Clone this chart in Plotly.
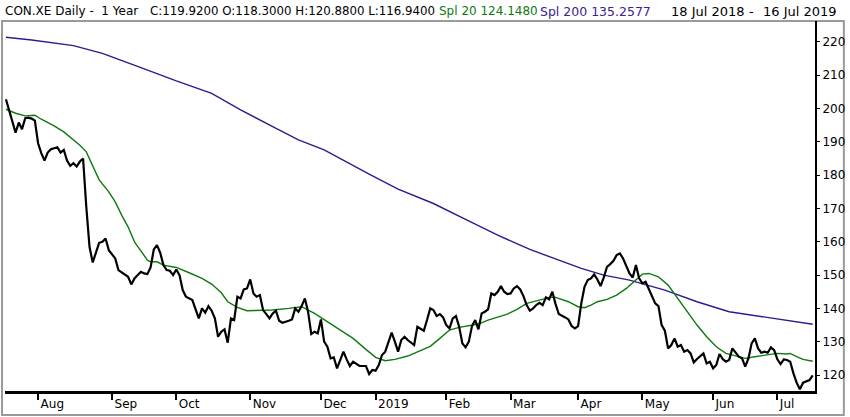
import plotly.graph_objects as go

# ---------------- data ----------------
close_dates = [
    "2018-07-18", "2018-07-23", "2018-07-24", "2018-07-25", "2018-07-26", "2018-07-27", "2018-07-30", "2018-07-31",
    "2018-08-01", "2018-08-02", "2018-08-03", "2018-08-06", "2018-08-07", "2018-08-09", "2018-08-10", "2018-08-13",
    "2018-08-14", "2018-08-15", "2018-08-16", "2018-08-17", "2018-08-20", "2018-08-21", "2018-08-22", "2018-08-23",
    "2018-08-24", "2018-08-27", "2018-08-28", "2018-08-29", "2018-08-30", "2018-08-31",
    "2018-09-04", "2018-09-05", "2018-09-07", "2018-09-10", "2018-09-11", "2018-09-12", "2018-09-13", "2018-09-14",
    "2018-09-17", "2018-09-18", "2018-09-19", "2018-09-20", "2018-09-21", "2018-09-24", "2018-09-25", "2018-09-26",
    "2018-09-27", "2018-09-28",
    "2018-10-01", "2018-10-02", "2018-10-03", "2018-10-04", "2018-10-08", "2018-10-09", "2018-10-10", "2018-10-11",
    "2018-10-12", "2018-10-15", "2018-10-16", "2018-10-17", "2018-10-18", "2018-10-19", "2018-10-22", "2018-10-23",
    "2018-10-24", "2018-10-25", "2018-10-26", "2018-10-29", "2018-10-30", "2018-10-31",
    "2018-11-01", "2018-11-02", "2018-11-05", "2018-11-06", "2018-11-07", "2018-11-08", "2018-11-09", "2018-11-12",
    "2018-11-13", "2018-11-14", "2018-11-15", "2018-11-19", "2018-11-20", "2018-11-21", "2018-11-22", "2018-11-23",
    "2018-11-26", "2018-11-27", "2018-11-28", "2018-11-29", "2018-11-30",
    "2018-12-03", "2018-12-04", "2018-12-05", "2018-12-06", "2018-12-07", "2018-12-10", "2018-12-11", "2018-12-12",
    "2018-12-13", "2018-12-14", "2018-12-17", "2018-12-18", "2018-12-19", "2018-12-21", "2018-12-27", "2018-12-28",
    "2019-01-02", "2019-01-03", "2019-01-04", "2019-01-07", "2019-01-08", "2019-01-09", "2019-01-10", "2019-01-11",
    "2019-01-14", "2019-01-15", "2019-01-16", "2019-01-18", "2019-01-21", "2019-01-22", "2019-01-23", "2019-01-24",
    "2019-01-25", "2019-01-28", "2019-01-29", "2019-01-30", "2019-01-31",
    "2019-02-01", "2019-02-04", "2019-02-05", "2019-02-06", "2019-02-07", "2019-02-08", "2019-02-11", "2019-02-12",
    "2019-02-13", "2019-02-14", "2019-02-15", "2019-02-18", "2019-02-19", "2019-02-20", "2019-02-21", "2019-02-22",
    "2019-02-25", "2019-02-26", "2019-02-27", "2019-02-28",
    "2019-03-01", "2019-03-04", "2019-03-05", "2019-03-06", "2019-03-07", "2019-03-08", "2019-03-11", "2019-03-12",
    "2019-03-13", "2019-03-14", "2019-03-15", "2019-03-18", "2019-03-19", "2019-03-20", "2019-03-21", "2019-03-22",
    "2019-03-26", "2019-03-27", "2019-03-28", "2019-03-29",
    "2019-04-01", "2019-04-02", "2019-04-03", "2019-04-04", "2019-04-05", "2019-04-08", "2019-04-09", "2019-04-10",
    "2019-04-11", "2019-04-12", "2019-04-15", "2019-04-16", "2019-04-17", "2019-04-18", "2019-04-23", "2019-04-24",
    "2019-04-25", "2019-04-26", "2019-04-29", "2019-04-30",
    "2019-05-02", "2019-05-03", "2019-05-06", "2019-05-07", "2019-05-08", "2019-05-09", "2019-05-10", "2019-05-13",
    "2019-05-14", "2019-05-15", "2019-05-16", "2019-05-17", "2019-05-20", "2019-05-21", "2019-05-22", "2019-05-23",
    "2019-05-24", "2019-05-27", "2019-05-28", "2019-05-29", "2019-05-30", "2019-05-31",
    "2019-06-03", "2019-06-04", "2019-06-05", "2019-06-06", "2019-06-07", "2019-06-10", "2019-06-11", "2019-06-12",
    "2019-06-13", "2019-06-14", "2019-06-17", "2019-06-18", "2019-06-19", "2019-06-20", "2019-06-21", "2019-06-24",
    "2019-06-25", "2019-06-26", "2019-06-27", "2019-06-28",
    "2019-07-01", "2019-07-02", "2019-07-03", "2019-07-04", "2019-07-05", "2019-07-08", "2019-07-09", "2019-07-10",
    "2019-07-11", "2019-07-15", "2019-07-16",
]
close_values = [
    202.8, 192.8, 195.8, 193.8, 197.1, 197.3, 197.0, 196.4,
    189.6, 186.6, 184.4, 186.8, 187.8, 188.4, 186.8, 187.6,
    184.4, 182.8, 183.6, 182.6, 184.1, 185.0, 170.5, 158.5,
    153.8, 156.5, 159.7, 160.0, 161.0, 157.5,
    155.0, 151.5, 150.0, 149.5, 147.2, 149.0, 150.0, 151.0,
    150.5, 150.3, 152.3, 157.7, 159.0, 156.7, 153.0, 151.5,
    151.3, 150.0,
    151.7, 150.0, 145.5, 143.5, 142.5, 139.5, 137.0, 140.0,
    138.7, 140.7, 139.3, 137.0, 131.5, 133.0, 133.7, 129.7,
    137.0, 136.5, 143.5, 143.0, 145.7, 146.0,
    148.7, 144.5, 143.5, 144.0, 139.5, 138.3, 137.0, 138.5,
    139.3, 136.3, 135.7, 136.3, 136.7, 140.0, 139.0, 140.7,
    143.0, 139.0, 132.3, 133.0, 132.5,
    136.7, 130.0, 128.5, 125.0, 125.3, 122.0, 124.5, 127.0,
    124.7, 122.7, 124.0, 123.3, 122.7, 122.7, 120.3, 121.5,
    121.3, 123.0, 126.0, 127.0, 130.0, 132.7, 130.0, 127.0,
    130.5, 131.5, 130.5, 129.0, 134.5, 134.0, 133.3, 136.5,
    140.0, 139.5, 137.7, 138.3, 137.3,
    135.0, 134.0, 137.0, 137.7, 134.5, 129.5, 128.3, 130.0,
    134.7, 136.5, 133.7, 138.5, 139.0, 139.7, 144.5, 144.0,
    145.0, 146.7, 145.0, 144.3,
    144.5, 146.0, 146.7, 145.7, 143.7, 141.0, 139.3, 140.0,
    141.0, 141.7, 141.0, 143.3, 142.7, 145.0, 141.3, 138.3,
    137.3, 136.7, 134.7, 134.0,
    134.7, 141.5, 146.5, 148.5, 149.0, 150.2, 148.7, 146.7,
    149.3, 152.5, 153.3, 154.3, 156.0, 156.5, 155.0, 152.7,
    150.5, 149.3, 153.0, 149.0,
    147.5, 148.0, 146.0, 143.5, 141.5, 140.7, 135.0, 133.3,
    128.0, 129.0, 131.0, 128.5, 129.0, 127.0, 127.5, 126.5,
    123.8, 124.8, 125.7, 126.5, 123.5, 124.0,
    122.0, 123.0, 126.3, 124.8, 124.0, 124.5, 128.0, 126.7,
    125.5, 125.0, 122.5, 125.0, 129.5, 131.0, 128.0, 126.7,
    127.0, 126.7, 128.3, 127.5,
    124.7, 123.3, 124.7, 124.5, 124.0, 120.5, 117.7, 115.7,
    117.7, 118.5, 119.92,
]

spl20_dates = [
    "2018-07-18", "2018-07-23", "2018-07-26", "2018-07-31", "2018-08-02", "2018-08-08", "2018-08-13", "2018-08-16",
    "2018-08-20", "2018-08-22", "2018-08-24", "2018-08-28", "2018-08-31", "2018-09-04", "2018-09-06", "2018-09-10",
    "2018-09-12", "2018-09-17", "2018-09-18", "2018-09-19", "2018-09-21", "2018-09-25", "2018-10-01", "2018-10-05",
    "2018-10-11", "2018-10-16", "2018-10-19", "2018-10-23", "2018-10-26", "2018-10-31", "2018-11-06", "2018-11-12",
    "2018-11-19", "2018-11-23", "2018-11-29", "2018-12-05", "2018-12-11", "2018-12-17", "2018-12-21", "2019-01-02",
    "2019-01-07", "2019-01-10", "2019-01-16", "2019-01-21", "2019-01-25", "2019-01-30", "2019-02-04", "2019-02-07",
    "2019-02-12", "2019-02-15", "2019-02-20", "2019-02-25", "2019-02-28", "2019-03-05", "2019-03-08", "2019-03-14",
    "2019-03-19", "2019-03-21", "2019-03-25", "2019-03-27", "2019-04-01", "2019-04-03", "2019-04-05", "2019-04-09",
    "2019-04-12", "2019-04-17", "2019-04-24", "2019-04-29", "2019-05-02", "2019-05-06", "2019-05-09", "2019-05-14",
    "2019-05-17", "2019-05-22", "2019-05-27", "2019-05-30", "2019-06-04", "2019-06-07", "2019-06-12", "2019-06-17",
    "2019-06-20", "2019-06-26", "2019-07-01", "2019-07-04", "2019-07-05", "2019-07-09", "2019-07-11", "2019-07-16",
]
spl20_values = [
    199.8, 198.6, 197.8, 198.0, 196.8, 194.8, 193.0, 190.6,
    189.0, 187.0, 182.6, 178.6, 175.0, 172.0, 168.0, 164.5,
    160.0, 156.0, 154.5, 154.0, 154.0, 153.0, 152.3, 150.7,
    149.0, 147.3, 144.7, 142.0, 140.3, 139.3, 139.5, 139.5,
    140.0, 140.5, 138.5, 136.0, 133.5, 131.0, 127.7, 125.3,
    124.3, 124.7, 125.7, 127.0, 128.6, 131.0, 133.5, 134.3,
    134.7, 135.3, 136.5, 137.5, 138.3, 139.7, 141.5, 142.5,
    143.3, 143.3, 142.7, 142.0, 140.5, 140.2, 141.0, 142.0,
    142.7, 144.0, 146.0, 148.7, 150.3, 150.5, 149.5, 147.0,
    143.0, 139.0, 135.0, 131.5, 128.5, 126.5, 125.7, 125.0,
    125.5, 126.0, 126.5, 126.3, 126.5, 125.5, 124.7, 124.148,
]

spl200_dates = [
    "2018-07-18", "2018-07-30", "2018-08-16", "2018-08-29", "2018-09-14", "2018-10-01", "2018-10-16", "2018-10-29",
    "2018-11-12", "2018-11-22", "2018-12-04", "2018-12-13", "2018-12-27", "2019-01-11", "2019-01-28", "2019-02-11",
    "2019-02-25", "2019-03-11", "2019-04-02", "2019-04-11", "2019-04-25", "2019-05-13", "2019-05-27", "2019-06-10",
    "2019-06-25", "2019-07-09", "2019-07-16",
]
spl200_values = [
    221.4, 220.6, 218.9, 216.6, 212.3, 208.3, 204.6, 199.6,
    194.6, 190.6, 187.6, 183.9, 180.3, 175.8, 171.5, 166.7,
    162.0, 157.7, 152.0, 150.0, 148.5, 145.5, 142.0, 139.0,
    137.5, 136.0, 135.2577,
]

month_ticks = ["2018-08-01", "2018-09-03", "2018-10-01", "2018-11-01", "2018-12-03", "2019-01-02",
               "2019-02-01", "2019-03-01", "2019-04-01", "2019-05-02", "2019-06-03", "2019-07-01"]
month_labels = ["Aug", "Sep", "Oct", "Nov", "Dec", "2019", "Feb", "Mar", "Apr", "May", "Jun", "Jul"]
market_holidays = ["2018-12-24", "2018-12-25", "2018-12-26", "2018-12-31", "2019-01-01",
                   "2019-04-19", "2019-04-22", "2019-05-01"]
price_ticks = [120, 130, 140, 150, 160, 170, 180, 190, 200, 210, 220]

# ---------------- layout geometry (pixels) ----------------
W, H = 850, 417
L, R, T, B = 5, 819, 21, 391


def px_x(p):
    return (p - L) / (R - L)


def px_y(p):
    return (B - p) / (B - T)


fig = go.Figure()
fig.add_trace(go.Scatter(x=spl200_dates, y=spl200_values, mode="lines",
                         line=dict(color="#2f1b8f", width=1.4), hoverinfo="skip"))
fig.add_trace(go.Scatter(x=spl20_dates, y=spl20_values, mode="lines",
                         line=dict(color="#0e7a0e", width=1.4), hoverinfo="skip"))
fig.add_trace(go.Scatter(x=close_dates, y=close_values, mode="lines",
                         line=dict(color="#000000", width=2.2), hoverinfo="skip"))

fig.update_layout(
    width=W, height=H, autosize=False,
    margin=dict(l=L, r=W - R, t=T, b=H - B, pad=0),
    paper_bgcolor="white", plot_bgcolor="white",
    showlegend=False,
    font=dict(family="DejaVu Sans", size=12, color="black"),
    xaxis=dict(
        type="date",
        range=["2018-07-17 17:00", "2019-07-16 17:00"],
        rangebreaks=[dict(bounds=["sat", "mon"]), dict(values=market_holidays)],
        tickmode="array", tickvals=month_ticks, ticktext=month_labels,
        ticks="outside", ticklen=6, tickwidth=2, tickcolor="black",
        ticklabelposition="outside right",
        tickfont=dict(family="DejaVu Sans", size=12, color="black"),
        showline=True, linewidth=3, linecolor="black",
        showgrid=False, zeroline=False, fixedrange=True,
    ),
    yaxis=dict(
        side="right",
        range=[115.2, 226.3],
        tickmode="array", tickvals=price_ticks,
        ticks="outside", ticklen=3, tickwidth=1, tickcolor="black",
        tickfont=dict(family="DejaVu Sans", size=12, color="black"),
        showline=True, linewidth=2, linecolor="black",
        showgrid=False, zeroline=False, fixedrange=True,
    ),
)

# outer gray frame
fig.add_shape(type="rect", xref="paper", yref="paper",
              x0=px_x(2), x1=px_x(848), y0=px_y(415), y1=px_y(21),
              line=dict(color="#9a9a9a", width=2), fillcolor="rgba(0,0,0,0)", layer="below")

# header texts
header_y = px_y(11)
header_parts = [
    (3, "CON.XE Daily -  1 Year", "black", 12),
    (149, "C:119.9200 O:118.3000 H:120.8800 L:116.9400", "black", 11.8),
    (439, "Spl 20 124.1480", "#0e7a0e", 12),
    (541, "Spl 200 135.2577", "#3b2391", 12.5),
    (672, "18 Jul 2018", "black", 13),
    (751, "-", "black", 13),
    (765, "16 Jul 2019", "black", 13),
]
for xp, txt, col, fs in header_parts:
    fig.add_annotation(xref="paper", yref="paper", x=px_x(xp), y=header_y,
                       xanchor="left", yanchor="middle", showarrow=False,
                       text=txt, font=dict(family="DejaVu Sans", size=fs, color=col))

fig.write_html("out.html",
               config={"displayModeBar": False, "staticPlot": True},
               post_script="document.body.style.margin='0px';document.body.style.overflow='hidden';")
